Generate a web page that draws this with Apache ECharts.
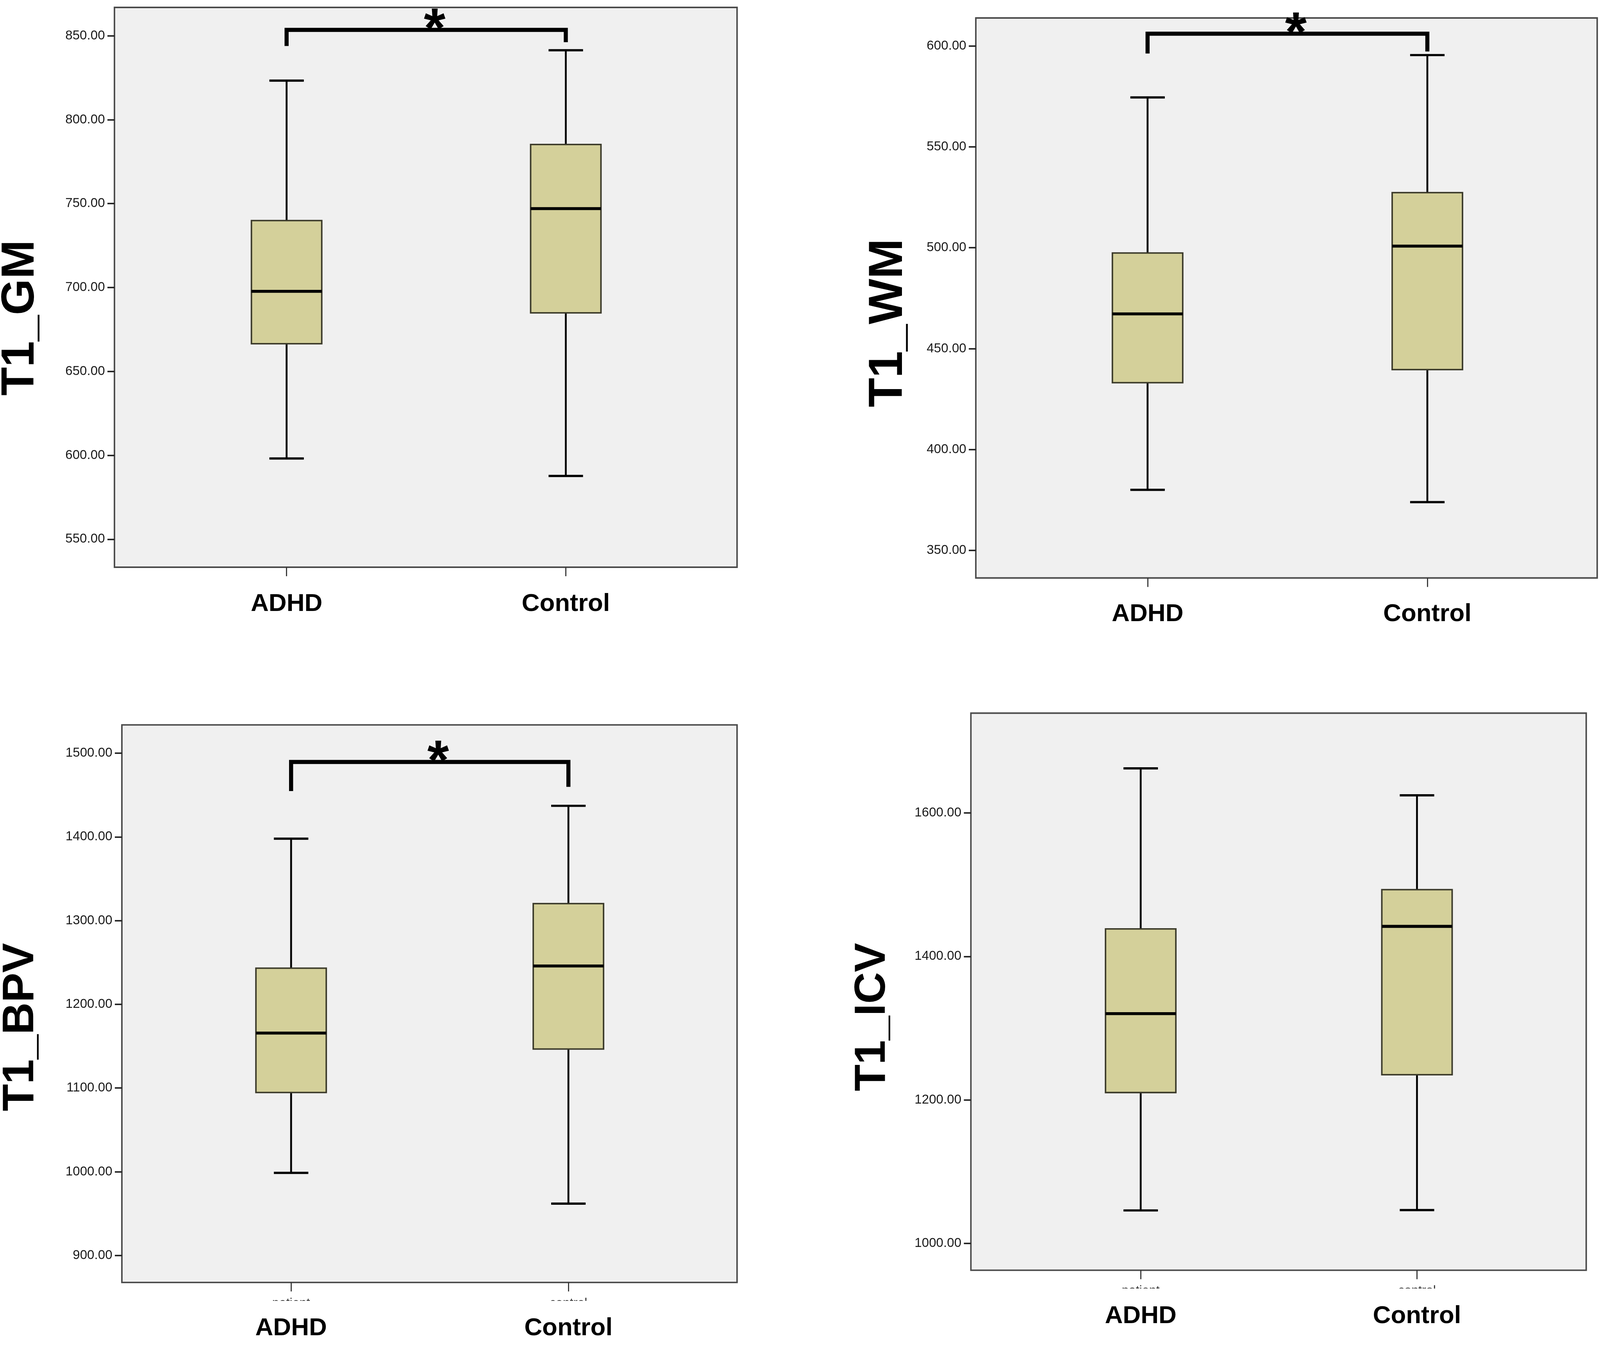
<!DOCTYPE html>
<html><head><meta charset="utf-8">
<script src="https://cdn.jsdelivr.net/npm/echarts@6/dist/echarts.min.js"></script>
<style>html,body{margin:0;padding:0;background:#fff;overflow:hidden}#c{width:100vw;height:100vh}</style>
</head><body><div id="c"></div>
<script>
// ---------------- data ----------------
const categories = ['ADHD', 'Control'];
const spssLabels = ['patient', 'control'];
// box values: [min, Q1, median, Q3, max]
const gmADHD = [598.1, 666.5, 697.7, 739.9, 823.3];
const gmControl = [587.7, 684.9, 747.0, 785.2, 841.4];
const wmADHD = [380.0, 433.1, 467.2, 497.4, 574.5];
const wmControl = [373.9, 439.6, 500.8, 527.3, 595.5];
const bpvADHD = [998.7, 1094.7, 1165.7, 1243.2, 1397.8];
const bpvControl = [961.9, 1146.6, 1245.8, 1320.3, 1437.1];
const icvADHD = [1045.8, 1210.2, 1320.2, 1438.4, 1662.3];
const icvControl = [1046.3, 1235.0, 1441.9, 1493.1, 1624.7];
// tick labels
const gmTicks = [550, 600, 650, 700, 750, 800, 850];
const wmTicks = [350, 400, 450, 500, 550, 600];
const bpvTicks = [900, 1000, 1100, 1200, 1300, 1400, 1500];
const icvTicks = [1000, 1200, 1400, 1600];
// significance brackets: [bar level, ADHD leg end, Control leg end]
const gmBracket = [853.5, 843.9, 846.2];
const wmBracket = [606.1, 596.3, 597.3];
const bpvBracket = [1489.5, 1454.7, 1459.7];

// ---------------- layout / style (designed for a 4550 x 3443 window) ----------------
const el = document.getElementById('c');
const SX = el.clientWidth / 4550, SY = el.clientHeight / 3443, SF = Math.sqrt(SX * SY);
const hx = v => v * SX, vy = v => v * SY, fs = v => v * SF;
const FONT = '"Liberation Sans", Arial, sans-serif';
const panels = [
  {name: 'T1_GM', adhd: gmADHD, control: gmControl, ticks: gmTicks, bracket: gmBracket,
   yMin: 533.3, yMax: 866.9, frame: {l: 325.5, r: 2096, t: 19, b: 1452}, data: {l: 418, r: 2006},
   nameSize: 126, nameGap: 200, nameShift: 156, labelMargin: 62, spss: false},
  {name: 'T1_WM', adhd: wmADHD, control: wmControl, ticks: wmTicks, bracket: wmBracket,
   yMin: 336.3, yMax: 613.9, frame: {l: 2775, r: 4542, t: 46, b: 1479.5}, data: {l: 2865.6, r: 4456.8},
   nameSize: 130, nameGap: 179, nameShift: 128, labelMargin: 61, spss: false},
  {name: 'T1_BPV', adhd: bpvADHD, control: bpvControl, ticks: bpvTicks, bracket: bpvBracket,
   yMin: 867.8, yMax: 1533.7, frame: {l: 346.6, r: 2096, t: 1855.7, b: 3282.9}, data: {l: 433.5, r: 2010.7},
   nameSize: 120, nameGap: 224, nameShift: 120, labelMargin: 36, spss: true},
  {name: 'T1_ICV', adhd: icvADHD, control: icvControl, ticks: icvTicks, bracket: null,
   yMin: 962.4, yMax: 1739.3, frame: {l: 2761, r: 4510.8, t: 1825.5, b: 3251.6}, data: {l: 2851, r: 4422.4},
   nameSize: 118, nameGap: 217, nameShift: 130, labelMargin: 36, spss: true}
];

function boxRender(params, api) {
  const c = api.value(0);
  const p = k => api.coord([c, api.value(k)]);
  const pMin = p(1), pQ1 = p(2), pMed = p(3), pQ3 = p(4), pMax = p(5);
  const x = pMin[0];
  const bw = hx(200), cw = hx(98);
  return {type: 'group', children: [
    {type: 'line', shape: {x1: x, y1: pMax[1], x2: x, y2: pQ3[1]}, style: {stroke: '#000', lineWidth: fs(5)}},
    {type: 'line', shape: {x1: x, y1: pQ1[1], x2: x, y2: pMin[1]}, style: {stroke: '#000', lineWidth: fs(5)}},
    {type: 'line', shape: {x1: x - cw / 2, y1: pMax[1], x2: x + cw / 2, y2: pMax[1]}, style: {stroke: '#000', lineWidth: fs(6)}},
    {type: 'line', shape: {x1: x - cw / 2, y1: pMin[1], x2: x + cw / 2, y2: pMin[1]}, style: {stroke: '#000', lineWidth: fs(6)}},
    {type: 'rect', shape: {x: x - bw / 2, y: pQ3[1], width: bw, height: pQ1[1] - pQ3[1]},
     style: {fill: '#d4d09a', stroke: '#3b3a2a', lineWidth: fs(4)}},
    {type: 'line', shape: {x1: x - bw / 2, y1: pMed[1], x2: x + bw / 2, y2: pMed[1]}, style: {stroke: '#000', lineWidth: fs(8)}}
  ]};
}

function bracketRender(params, api) {
  const top = api.value(2);
  const a = api.coord([api.value(0), top]);
  const b = api.coord([api.value(1), top]);
  const la = api.coord([api.value(0), api.value(3)]);
  const rb = api.coord([api.value(1), api.value(4)]);
  return {type: 'group', children: [
    {type: 'polyline', shape: {points: [[a[0], la[1]], [a[0], a[1]], [b[0], b[1]], [b[0], rb[1]]]},
     style: {stroke: '#000', lineWidth: fs(11), fill: 'none', lineJoin: 'miter', lineCap: 'butt'}},
    {type: 'text', x: (a[0] + b[0]) / 2 + hx(24), y: a[1] + vy(4),
     style: {text: '*', fontSize: fs(150), fontWeight: 'bold', fontFamily: FONT, align: 'center', verticalAlign: 'middle', fill: '#000'}}
  ]};
}

const grid = [], xAxis = [], yAxis = [], series = [], graphic = [];
panels.forEach((P, i) => {
  const f = P.frame, d = P.data;
  const fi = 2 * i, di = 2 * i + 1;
  grid.push({left: hx(f.l), top: vy(f.t), width: hx(f.r - f.l), height: vy(f.b - f.t), show: true,
    backgroundColor: '#f0f0f0', borderColor: '#4a4a4a', borderWidth: fs(4), containLabel: false, outerBoundsMode: 'none'});
  grid.push({left: hx(d.l), top: vy(f.t), width: hx(d.r - d.l), height: vy(f.b - f.t), show: false, containLabel: false, outerBoundsMode: 'none'});
  xAxis.push({gridIndex: fi, type: 'value', show: false});
  yAxis.push({gridIndex: fi, type: 'value', show: false});
  const xLabel = P.spss ? {
      margin: vy(P.labelMargin),
      formatter: (v, idx) => '{s|' + spssLabels[idx] + '}\n{b|' + v + '}',
      rich: {
        s: {fontSize: fs(34), lineHeight: vy(34), fontFamily: FONT, color: '#333'},
        b: {fontSize: fs(67), lineHeight: vy(96), fontWeight: 'bold', fontFamily: FONT, color: '#000'}
      }
    } : {margin: vy(P.labelMargin), fontSize: fs(67), fontWeight: 'bold', fontFamily: FONT, color: '#000'};
  xAxis.push({gridIndex: di, type: 'category', data: categories, boundaryGap: true,
    axisLine: {show: false},
    axisTick: {show: true, alignWithLabel: true, length: vy(23), lineStyle: {color: '#333', width: fs(3)}},
    axisLabel: xLabel, splitLine: {show: false}});
  yAxis.push({gridIndex: di, type: 'value', min: P.yMin, max: P.yMax, offset: hx(d.l - f.l),
    axisLine: {show: false},
    axisTick: {show: true, length: hx(20), lineStyle: {color: '#222', width: fs(4)}, customValues: P.ticks},
    axisLabel: {customValues: P.ticks, formatter: v => Number(v).toFixed(2), fontSize: fs(35), fontFamily: FONT, color: '#1a1a1a', margin: hx(27)},
    splitLine: {show: false},
    name: P.name, nameLocation: 'middle', nameRotate: 90, nameGap: hx(P.nameGap),
    nameTextStyle: {fontSize: fs(P.nameSize), fontWeight: 'bold', fontFamily: FONT, color: '#000', padding: [0, vy(P.nameShift), 0, 0]}});
  series.push({type: 'custom', name: P.name, xAxisIndex: di, yAxisIndex: di, clip: false, z: 3,
    encode: {x: 0, y: [1, 2, 3, 4, 5]}, renderItem: boxRender,
    data: [[0].concat(P.adhd), [1].concat(P.control)]});
  if (P.bracket) {
    series.push({type: 'custom', xAxisIndex: di, yAxisIndex: di, clip: false, z: 4,
      encode: {x: [0, 1], y: [2, 3, 4]}, renderItem: bracketRender,
      data: [[0, 1].concat(P.bracket)]});
  }
  if (P.spss) {
    graphic.push({type: 'rect', z: 100, shape: {x: hx(f.l), y: vy(f.b + 47), width: hx(f.r - f.l), height: vy(26)}, style: {fill: '#fff'}});
  }
});

const chart = echarts.init(el, null, {renderer: 'canvas'});
chart.setOption({animation: false, backgroundColor: '#fff', grid, xAxis, yAxis, series, graphic});
</script></body></html>
